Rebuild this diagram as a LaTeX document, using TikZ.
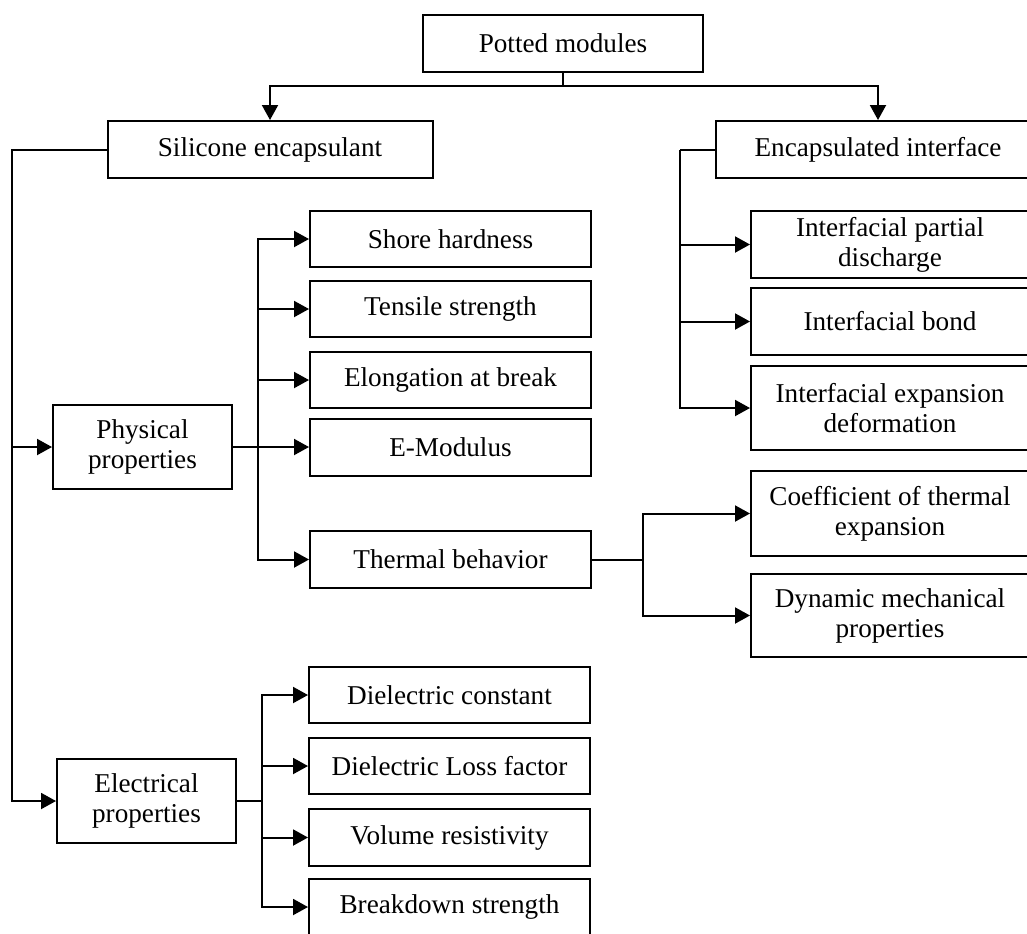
\documentclass[tikz,border=0pt]{standalone}
\usepackage{fontspec}
\setmainfont{Liberation Serif}
\usepackage{tikz}
\usetikzlibrary{arrows.meta}

\begin{document}
\begin{tikzpicture}[x=0.5pt,y=-0.5pt,>={Triangle[length=7.5pt,width=8pt]},line width=1pt,
  font=\fontsize{13.6}{15}\selectfont,
  box/.style={draw,line width=1pt,inner sep=0pt,align=center,minimum width=140.5pt,minimum height=28pt},
  tall/.style={box,minimum height=42pt}]
\useasboundingbox (0,0) rectangle (1027,933);
\clip (0,0) rectangle (1027,933);

% top level
\node[box,minimum width=140pt,minimum height=28.5pt] (pot) at (563,43.5) {Potted modules};
\node[box,minimum width=162.5pt,minimum height=28.5pt] (sil) at (270,149.5) {Silicone encapsulant};
\node[box,minimum width=162pt,minimum height=28.5pt] (enc) at (878,149.5) {Encapsulated interface};

% silicone side
\node[tall,minimum width=89.5pt] (phys) at (142.5,447) {Physical\\properties};
\node[tall,minimum width=89.5pt] (elec) at (146.5,801) {Electrical\\properties};
\node[box] (shore) at (450.5,239) {Shore hardness};
\node[box] (tens) at (450.5,309) {Tensile strength};
\node[box] (elong) at (450.5,380) {Elongation at break};
\node[box,minimum height=28.5pt] (emod) at (450.5,447) {E-Modulus};
\node[box,minimum height=28.5pt] (therm) at (450.5,559.5) {Thermal behavior};
\node[box] (dc) at (449.5,695) {Dielectric constant};
\node[box] (dlf) at (449.5,766) {Dielectric Loss factor};
\node[box,minimum height=28.5pt] (vr) at (449.5,837.5) {Volume resistivity};
\node[box] (bs) at (449.5,907) {Breakdown strength};

% interface side
\node[box,minimum width=139pt,minimum height=33.5pt] (ipd) at (890,244.5) {Interfacial partial\\discharge};
\node[box,minimum width=139pt,minimum height=33.5pt] (ibond) at (890,321.5) {Interfacial bond};
\node[tall,minimum width=139pt] (iexp) at (890,408) {Interfacial expansion\\deformation};
\node[tall,minimum width=139pt,minimum height=42.5pt] (cte) at (890,513.5) {Coefficient of thermal\\expansion};
\node[tall,minimum width=139pt,minimum height=41.5pt] (dma) at (890,615.5) {Dynamic mechanical\\properties};

% connectors
\draw (pot.south) -- ++(0,13) coordinate (tsplit);
\draw[->] (tsplit) -| (sil.north);
\draw[->] (tsplit) -| (enc.north);

\coordinate (sbus) at (12,149.5);
\draw[->] (sil.west) -- (sbus) |- (elec.west);
\draw[->] (sbus |- phys.west) -- (phys.west);

\coordinate (pbus) at (258,447);
\draw[->] (phys.east) -- (emod.west);
\foreach \n in {shore,tens,elong,therm} \draw[->] (pbus) |- (\n.west);

\coordinate (tbus) at (643,559.5);
\draw (therm.east) -- (tbus);
\foreach \n in {cte,dma} \draw[->] (tbus) |- (\n.west);

\coordinate (ebus) at (680,149.5);
\draw (enc.west) -- (ebus);
\foreach \n in {ipd,ibond,iexp} \draw[->] (ebus) |- (\n.west);

\coordinate (lbus) at (262,801);
\draw (elec.east) -- (lbus);
\foreach \n in {dc,dlf,vr,bs} \draw[->] (lbus) |- (\n.west);
\end{tikzpicture}
\end{document}
